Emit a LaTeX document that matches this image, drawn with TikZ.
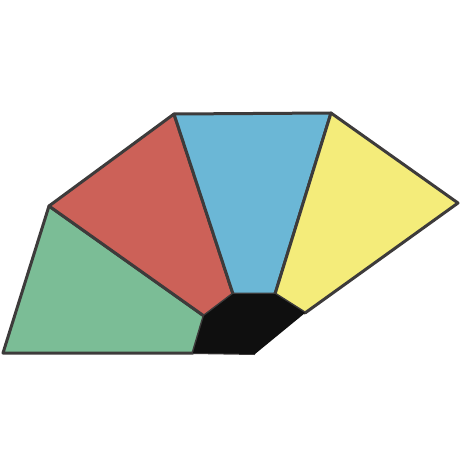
\documentclass[tikz,border=0pt]{standalone}
\definecolor{cgreen}{HTML}{7BBD96}
\definecolor{cred}{HTML}{CC6158}
\definecolor{cblue}{HTML}{6BB7D6}
\definecolor{cyellow}{HTML}{F4EC7A}
\definecolor{cblack}{HTML}{0F0F0F}
\definecolor{cedge}{HTML}{3D3B3B}
\begin{document}
\begin{tikzpicture}[x=1pt,y=-1pt,
  seg/.style={draw=cedge,line width=3pt,line join=round}]
\useasboundingbox (0,0) rectangle (460,458);
\coordinate (A) at (3,353);
\coordinate (B) at (49,206);
\coordinate (C) at (174,114);
\coordinate (D) at (331,113);
\coordinate (E) at (458,203);
\coordinate (H1) at (193,353);
\coordinate (H2) at (204,316);
\coordinate (H3) at (233,294);
\coordinate (H4) at (275,294);
\coordinate (H5) at (305,313);
\coordinate (H6) at (255,354);
\fill[seg,fill=cgreen] (A) -- (B) -- (H2) -- (H1) -- cycle;
\fill[seg,fill=cred] (B) -- (C) -- (H3) -- (H2) -- cycle;
\fill[seg,fill=cblue] (C) -- (D) -- (H4) -- (H3) -- cycle;
\fill[seg,fill=cyellow] (D) -- (E) -- (H5) -- (H4) -- cycle;
\draw[cedge,line width=2pt] (H1) -- (H6);
\fill[cblack] (H1) -- (H2) -- (H3) -- (H4) -- (H5) -- (H6) -- cycle;
\end{tikzpicture}
\end{document}
